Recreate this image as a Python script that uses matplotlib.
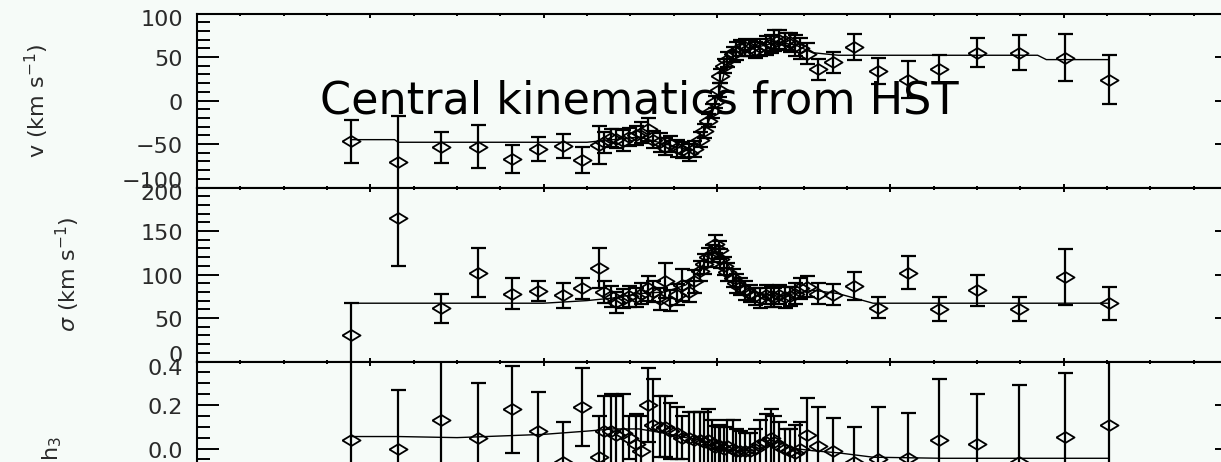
import matplotlib.pyplot as plt
import numpy as np
from matplotlib.ticker import MultipleLocator, FixedLocator

# radius along the slit (arcsec), shared by all three panels
radius = [-2.11, -1.84, -1.59, -1.38, -1.18, -1.03, -0.89, -0.78, -0.68,
          -0.65, -0.61, -0.58, -0.54, -0.51, -0.47, -0.44, -0.40, -0.37, -0.33,
          -0.30, -0.27, -0.23, -0.20, -0.16, -0.13, -0.10, -0.075, -0.05, -0.03,
          -0.01, 0.01, 0.02, 0.04, 0.06, 0.09, 0.11, 0.13, 0.16, 0.19,
          0.22, 0.25, 0.28, 0.31, 0.33, 0.36, 0.39, 0.42, 0.45, 0.48,
          0.52, 0.58, 0.67, 0.79, 0.93, 1.10, 1.28, 1.50, 1.74, 2.01, 2.26]

vel = [-47, -71, -54, -53, -67, -56, -52, -68, -51,
       -48, -43, -44, -46, -42, -40, -37, -33, -45, -48,
       -53, -50, -55, -57, -60, -56, -45, -35, -23, -12,
       -2, 12, 28, 40, 47, 53, 57, 60, 61, 60,
       58, 61, 63, 65, 69, 70, 68, 67, 63, 60,
       54, 36, 44, 61, 34, 24, 36, 55, 55, 49, 24]
vel_err = [25, 53, 18, 25, 16, 14, 14, 15, 22,
           12, 10, 11, 12, 10, 11, 12, 13, 10, 11,
           10, 9, 10, 9, 10, 9, 9, 8, 8, 8,
           7, 8, 8, 8, 9, 9, 10, 9, 10, 9,
           9, 10, 11, 10, 12, 11, 10, 11, 12, 12,
           12, 12, 12, 15, 15, 21, 16, 17, 20, 27, 28]

sig = [30, 165, 61, 102, 78, 81, 76, 84, 108,
       80, 75, 68, 72, 75, 74, 78, 84, 80, 72,
       93, 70, 77, 88, 80, 92, 104, 112, 120, 124,
       135, 128, 118, 110, 103, 96, 90, 86, 82, 78,
       75, 73, 77, 75, 74, 77, 74, 75, 78, 84,
       86, 78, 77, 87, 62, 102, 60, 82, 60, 97, 67]
sig_err = [37, 55, 17, 28, 18, 12, 14, 12, 23,
           13, 12, 12, 11, 12, 11, 12, 14, 12, 13,
           20, 12, 12, 18, 12, 13, 12, 11, 11, 10,
           10, 10, 11, 10, 10, 10, 11, 10, 11, 10,
           10, 11, 11, 12, 11, 11, 12, 11, 12, 12,
           12, 12, 12, 16, 12, 19, 14, 18, 14, 32, 19]

h3 = [0.04, 0.00, 0.13, 0.05, 0.18, 0.08, -0.06, 0.19, -0.04,
      0.08, 0.08, 0.06, 0.07, 0.05, 0.02, -0.01, 0.20, 0.11, 0.10,
      0.10, 0.08, 0.07, 0.05, 0.05, 0.04, 0.04, 0.03, 0.04, 0.02,
      0.005, 0.01, 0.01, 0.00, 0.01, 0.00, -0.01, -0.01, -0.01, -0.01,
      0.00, 0.02, 0.03, 0.05, 0.03, 0.01, 0.00, -0.01, -0.02, 0.00,
      0.06, 0.01, -0.01, -0.06, -0.05, -0.045, 0.04, 0.02, -0.06, 0.055, 0.11]
h3_err = [0.50, 0.27, 0.35, 0.25, 0.20, 0.18, 0.18, 0.18, 0.19,
          0.16, 0.17, 0.18, 0.18, 0.10, 0.14, 0.16, 0.17, 0.21, 0.14,
          0.14, 0.13, 0.12, 0.10, 0.12, 0.13, 0.13, 0.14, 0.14, 0.11,
          0.10, 0.10, 0.09, 0.10, 0.12, 0.13, 0.10, 0.09, 0.08, 0.08,
          0.09, 0.11, 0.13, 0.13, 0.12, 0.11, 0.09, 0.10, 0.13, 0.12,
          0.17, 0.18, 0.15, 0.16, 0.24, 0.21, 0.28, 0.23, 0.35, 0.29, 0.45]

# model curves
model_r = [-2.11, -1.86, -1.84, -1.5, -1.0, -0.75, -0.6, -0.45, -0.3, -0.18,
           -0.1, -0.05, 0.0, 0.05, 0.1, 0.2, 0.35, 0.45, 0.55, 0.7,
           0.9, 1.3, 1.85, 1.9, 2.26]
model_vel = [-45, -45, -48, -48, -48, -48, -45, -42, -50, -56,
             -48, -25, 0, 38, 55, 60, 67, 64, 55, 52,
             52, 52, 52, 47, 47]
model_sig = [67, 67, 67, 67, 67, 70, 73, 78, 80, 88,
             105, 120, 130, 118, 96, 80, 75, 78, 82, 78,
             67, 67, 67, 67, 67]
model_h3 = [0.055, 0.055, 0.055, 0.05, 0.065, 0.08, 0.09, 0.09, 0.07, 0.05,
            0.04, 0.03, 0.01, 0.00, -0.01, -0.01, 0.03, 0.0, -0.01, -0.02,
            -0.04, -0.045, -0.045, -0.045, -0.045]

bg = '#f6fbf8'
ink = '#2a2a2a'
W, H = 1221, 462
fig = plt.figure(figsize=(W / 100, H / 100), dpi=100, facecolor=bg)

# flat diamond used by the original plot
diamond = [(-1, 0), (0, 0.6), (1, 0), (0, -0.6), (-1, 0)]

left, right = 197, 1237
tops = [13.5, 187.5, 361.5]
ph = 174

panels = [
    (vel, vel_err, model_vel, (-100, 100), [100, 50, 0, -50, -100], 10,
     ['100', '50', '0', '\u221250', '\u2212100'], r'v (km s$^{-1}$)', 37),
    (sig, sig_err, model_sig, (0, 200), [200, 150, 100, 50, 0], 10,
     ['200', '150', '100', '50', '0'], r'$\sigma$ (km s$^{-1}$)', 68),
    (h3, h3_err, model_h3, (-0.4, 0.4), [0.4, 0.2, 0.0, -0.2, -0.4], 0.05,
     ['0.4', '0.2', '0.0', '\u22120.2', '\u22120.4'], r'h$_3$', 52),
]

for top, (y, yerr, model, ylim, yt, ymin, ylab, label, lx) in zip(tops, panels):
    ax = fig.add_axes([left / W, 1 - (top + ph) / H, (right - left) / W, ph / H])
    ax.set_facecolor(bg)
    ax.errorbar(radius, y, yerr=yerr, fmt='none', ecolor='black',
                elinewidth=1.6, capsize=5.4, capthick=1.6)
    ax.plot(radius, y, linestyle='none', marker=diamond, markersize=13,
            mfc='none', mec='black', mew=1.3)
    ax.plot(model_r, model, color='black', lw=1.0)
    ax.set_xlim(-3, 3)
    ax.set_ylim(*ylim)
    ax.xaxis.set_major_locator(MultipleLocator(1))
    ax.xaxis.set_minor_locator(MultipleLocator(0.25))
    ax.yaxis.set_major_locator(FixedLocator(yt))
    ax.yaxis.set_minor_locator(MultipleLocator(ymin))
    ax.tick_params(axis='x', which='both', direction='in', top=True,
                   bottom=True, labelbottom=False, width=1.4)
    ax.tick_params(axis='x', which='major', length=3)
    ax.tick_params(axis='x', which='minor', length=1.5)
    ax.tick_params(axis='y', which='both', direction='in', left=True,
                   right=True, width=1.4, labelleft=False)
    ax.tick_params(axis='y', which='major', length=15.8)
    ax.tick_params(axis='y', which='minor', length=9)
    for s in ax.spines.values():
        s.set_linewidth(1.5)

    # tick labels, the end ones pushed inward like the original
    for i, (val, txt) in enumerate(zip(yt, ylab)):
        dy = -3
        if i == 0:
            dy = -7
        elif i == len(yt) - 1:
            dy = 6
        ax.annotate(txt, xy=(0, val), xycoords=('axes fraction', 'data'),
                    xytext=(-14, dy), textcoords='offset pixels',
                    ha='right', va='center', fontsize=16, color=ink,
                    annotation_clip=False)

    fig.text(lx / W, 1 - (top + ph / 2) / H, label, rotation=90,
             ha='center', va='center', fontsize=16, color=ink)

fig.text(320 / W, 1 - 113 / H, 'Central kinematics from HST',
         fontsize=32, ha='left', va='baseline', color='black', zorder=10)

fig.savefig('out.png', dpi=100, facecolor=bg)
